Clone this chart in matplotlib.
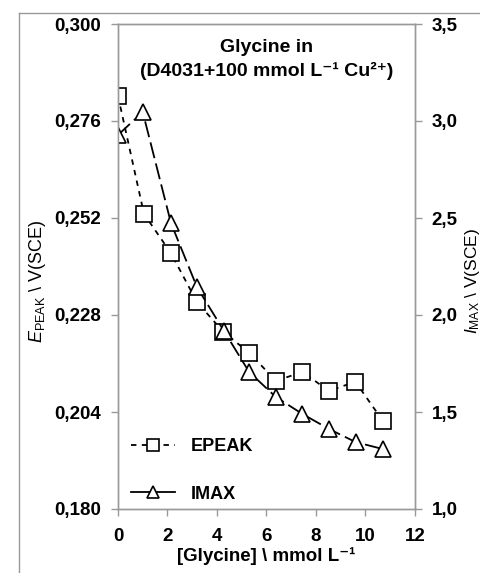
import numpy as np
import matplotlib
matplotlib.use("Agg")
from matplotlib import pyplot as plt
from matplotlib.lines import Line2D

# data
glycine = [0.0, 1.05, 2.14, 3.19, 4.26, 5.31, 6.38, 7.45, 8.53, 9.59, 10.7]
epeak = [0.2822, 0.2530, 0.2433, 0.2312, 0.2238, 0.2186, 0.2117, 0.2139, 0.2092, 0.2115, 0.2018]
imax_x = [0.0, 1.0, 2.14, 3.19, 4.28, 5.30, 6.38, 7.45, 8.53, 9.60, 10.7]
imax = [2.928, 3.046, 2.474, 2.144, 1.918, 1.706, 1.577, 1.490, 1.412, 1.345, 1.309]

xticks = np.arange(0, 13, 2)
yticks_left = [0.180, 0.204, 0.228, 0.252, 0.276, 0.300]
yticks_right = [1.0, 1.5, 2.0, 2.5, 3.0, 3.5]

plt.rcParams['font.family'] = ['Liberation Sans', 'DejaVu Sans']
plt.rcParams['mathtext.fontset'] = 'custom'
plt.rcParams['mathtext.rm'] = 'Liberation Sans'
plt.rcParams['mathtext.it'] = 'Liberation Sans:italic'

grey = "#999999"
fs = 13.5

fig = plt.figure(figsize=(4.81, 5.73), dpi=100)
ax = fig.add_axes([118/481, 64/573, 297/481, 485/573])
ax2 = ax.twinx()

l1, = ax.plot(glycine, epeak, color="black", linewidth=1.3, dashes=(3, 3),
              marker="s", markersize=11, markerfacecolor="white",
              markeredgecolor="black", markeredgewidth=1.2)
l2, = ax2.plot(imax_x, imax, color="black", linewidth=1.3, dashes=(9, 3),
               marker="^", markersize=11, markerfacecolor="white",
               markeredgecolor="black", markeredgewidth=1.2)

ax.set_xlim(0, 12)
ax.set_ylim(0.18, 0.30)
ax2.set_ylim(1.0, 3.5)
ax.set_xticks(xticks)
ax.set_xticklabels([str(v) for v in xticks])
ax.set_yticks(yticks_left)
ax.set_yticklabels([("%.3f" % v).replace(".", ",") for v in yticks_left])
ax2.set_yticks(yticks_right)
ax2.set_yticklabels([("%.1f" % v).replace(".", ",") for v in yticks_right])

for a in (ax, ax2):
    for s in a.spines.values():
        s.set_color(grey)
        s.set_linewidth(1.0)
    a.tick_params(direction="out", length=5, width=1.0, color=grey,
                  labelsize=fs, pad=7)
    for lab in a.get_xticklabels() + a.get_yticklabels():
        lab.set_fontweight("bold")
ax.tick_params(axis="x", pad=9)

ax.set_xlabel("[Glycine] \\ mmol L⁻¹", fontsize=fs, fontweight="bold", labelpad=1)
ax.set_ylabel("$\\mathit{E}_{\\mathrm{PEAK}}$ \\ V(SCE)", fontsize=13)
ax.yaxis.set_label_coords(-0.237, 0.47)
ax2.set_ylabel("$\\mathit{I}_{\\mathrm{MAX}}$ \\ V(SCE)", fontsize=12.5)
ax2.yaxis.set_label_coords(1.16, 0.47)

ax.text(0.5, 0.97, "Glycine in\n(D4031+100 mmol L⁻¹ Cu²⁺)",
        transform=ax.transAxes, ha="center", va="top", fontsize=14,
        fontweight="bold", linespacing=1.45)

# legend: IMAX shown with a solid line as in the original
h1 = Line2D([], [], color="black", linewidth=1.3, dashes=(3, 3), marker="s",
            markersize=9, markerfacecolor="white", markeredgecolor="black",
            markeredgewidth=1.2)
h2 = Line2D([], [], color="black", linewidth=1.3, marker="^",
            markersize=9, markerfacecolor="white", markeredgecolor="black",
            markeredgewidth=1.2)
leg = ax2.legend([h1, h2], ["EPEAK", "IMAX"], loc="center left",
                 bbox_to_anchor=(0.045, 0.08), frameon=False, fontsize=13,
                 borderpad=0, borderaxespad=0,
                 handlelength=2.4, handletextpad=0.9, labelspacing=1.7)
for t in leg.get_texts():
    t.set_fontweight("bold")

# chart area border (cut off at right/bottom)
fig.add_artist(Line2D([18.5/481, 18.5/481], [0, 1 - 12.5/573], color=grey, linewidth=1.0))
fig.add_artist(Line2D([18.5/481, 1], [1 - 12.5/573, 1 - 12.5/573], color=grey, linewidth=1.0))

fig.savefig("out.png", dpi=100)
